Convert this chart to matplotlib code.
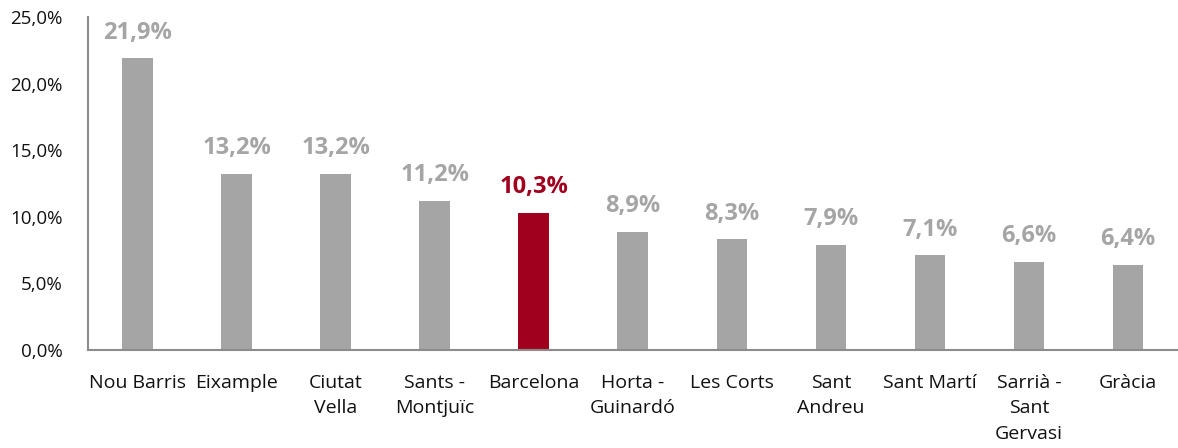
import numpy as np
import matplotlib
matplotlib.use('Agg')
import matplotlib.pyplot as plt
from matplotlib.ticker import FuncFormatter

# --- DATA ---
districts = ['Nou Barris', 'Eixample', 'Ciutat\nVella', 'Sants -\nMontjuïc', 'Barcelona',
             'Horta -\nGuinardó', 'Les Corts', 'Sant\nAndreu', 'Sant Martí',
             'Sarrià -\nSant\nGervasi', 'Gràcia']
values = [21.9, 13.2, 13.2, 11.2, 10.3, 8.9, 8.3, 7.9, 7.1, 6.6, 6.4]
highlight = 'Barcelona'

GREY = '#A5A5A5'
RED = '#A0001E'

plt.rcParams['font.family'] = ['Open Sans', 'DejaVu Sans']

fig = plt.figure(figsize=(11.78, 4.48), dpi=100)
ax = fig.add_axes([0.0747, 0.21875, 0.925, 0.743])

x = np.arange(len(districts))
colors = [RED if d == highlight else GREY for d in districts]
ax.bar(x, values, width=0.31, color=colors, zorder=2)

# value labels
for xi, v, c in zip(x, values, colors):
    ax.annotate(f'{v:.1f}%'.replace('.', ','), (xi, v), xytext=(0, 10),
                textcoords='offset points', ha='center', va='bottom',
                fontsize=17, fontweight='bold', color=c)

ax.set_xlim(-0.5, len(districts) - 0.5)
ax.set_ylim(0, 25)
ax.set_yticks(np.arange(0, 26, 5))
ax.yaxis.set_major_formatter(FuncFormatter(lambda v, p: f'{v:.1f}%'.replace('.', ',')))
ax.set_xticks(x)
ax.set_xticklabels(districts, linespacing=1.55)

ax.tick_params(axis='y', length=0, pad=18, labelsize=13.5, labelcolor='#111111')
ax.tick_params(axis='x', length=0, pad=17, labelsize=14, labelcolor='#111111')

for s in ['top', 'right']:
    ax.spines[s].set_visible(False)
ax.spines['left'].set_color('#8C8C8C')
ax.spines['bottom'].set_color('#8C8C8C')
ax.spines['left'].set_linewidth(1.5)
ax.spines['bottom'].set_linewidth(1.5)

fig.savefig('out.png', dpi=100)
